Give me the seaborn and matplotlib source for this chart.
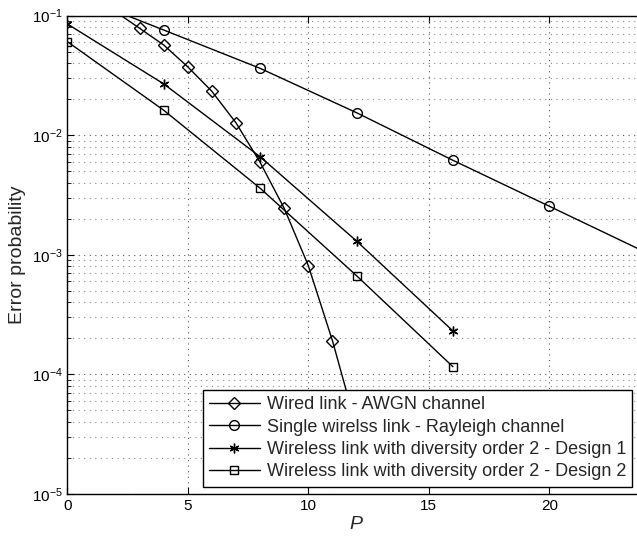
import matplotlib
matplotlib.use("Agg")
import matplotlib.pyplot as plt
import seaborn as sns
import numpy as np
from matplotlib.ticker import LogLocator, NullFormatter, FixedLocator

# ---- data ----
p_wired = [2, 3, 4, 5, 6, 7, 8, 9, 10, 11, 12]
e_wired = [0.108, 0.0785, 0.0569, 0.0373, 0.0233, 0.0127, 0.00594, 0.00245, 0.000813, 0.000192, 0.000036]

p_rayleigh = [0, 4, 8, 12, 16, 20, 24]
e_rayleigh = [0.158, 0.0759, 0.0363, 0.01545, 0.00618, 0.00255, 0.00105]

p_design1 = [0, 4, 8, 12, 16]
e_design1 = [0.0853, 0.0269, 0.00662, 0.001306, 0.000231]

p_design2 = [0, 4, 8, 12, 16]
e_design2 = [0.0607, 0.0162, 0.00361, 0.00067, 0.000116]

labels = ["Wired link - AWGN channel",
          "Single wirelss link - Rayleigh channel",
          "Wireless link with diversity order 2 - Design 1",
          "Wireless link with diversity order 2 - Design 2"]

x_ticks = [0, 5, 10, 15, 20]
y_ticks = [1e-5, 1e-4, 1e-3, 1e-2, 1e-1]

sns.set_style("ticks")
plt.rcParams['font.family'] = ['Liberation Sans', 'DejaVu Sans']
plt.rcParams['mathtext.fontset'] = 'custom'
plt.rcParams['mathtext.rm'] = 'Liberation Sans'
plt.rcParams['mathtext.it'] = 'Liberation Sans:italic'

W, H = 637, 538
fig = plt.figure(figsize=(W / 100, H / 100), dpi=100)
left_px, right_px, top_px, bot_px = 67.3, 645.7, 15.7, 494.0
ax = fig.add_axes([left_px / W, 1 - bot_px / H, (right_px - left_px) / W, (bot_px - top_px) / H])

series = [
    (p_wired, e_wired, 'D', 6.0),
    (p_rayleigh, e_rayleigh, 'o', 7.0),
    (p_design1, e_design1, (6, 2, 0), 7.0),
    (p_design2, e_design2, 's', 6.0),
]
for (xs, ys, mk, ms), lab in zip(series, labels):
    # markers only for points inside the visible range
    every = [i for i, v in enumerate(ys) if v <= 0.1]
    sns.lineplot(x=xs, y=ys, ax=ax, color='black', linewidth=1.0, marker=mk,
                 markersize=ms, markerfacecolor='none', markeredgecolor='black',
                 markeredgewidth=1.0, label=lab, sort=False, zorder=3,
                 markevery=every)

ax.set_yscale('log')
ax.set_xlim(0, 24)
ax.set_ylim(1e-5, 1e-1)
ax.xaxis.set_major_locator(FixedLocator(x_ticks))
ax.yaxis.set_major_locator(FixedLocator(y_ticks))
ax.yaxis.set_minor_locator(LogLocator(base=10, subs=np.arange(2, 10)))
ax.yaxis.set_minor_formatter(NullFormatter())
ax.set_yticklabels([r'$10^{-5}$', r'$10^{-4}$', r'$10^{-3}$', r'$10^{-2}$', r'$10^{-1}$'])
ax.set_xticklabels([str(t) for t in x_ticks])

ax.grid(True, which='major', axis='both', linestyle=(0, (1, 4)), color='#555555', linewidth=0.8)
ax.grid(True, which='minor', axis='y', linestyle=(0, (1, 4)), color='#888888', linewidth=0.8)

ax.tick_params(axis='both', which='both', direction='in', top=True, right=True, labelsize=11, colors='black')
ax.tick_params(which='major', length=5)
ax.tick_params(which='minor', length=3)
for s in ax.spines.values():
    s.set_visible(True)
    s.set_linewidth(1.0)
    s.set_color('black')

ax.set_xlabel('$P$', fontsize=14, labelpad=2)
ax.set_ylabel('Error probability', fontsize=14, labelpad=4)

leg = ax.legend(loc='lower left', bbox_to_anchor=(202.7 / W, 1 - 486.7 / H),
                bbox_transform=fig.transFigure, fontsize=13, frameon=True,
                fancybox=False, edgecolor='black', framealpha=1.0,
                borderpad=0.35, labelspacing=0.3, handlelength=2.8, handletextpad=0.4,
                borderaxespad=0)
leg.get_frame().set_linewidth(1.0)
leg.set_zorder(10)

fig.savefig('out.png', dpi=100)
